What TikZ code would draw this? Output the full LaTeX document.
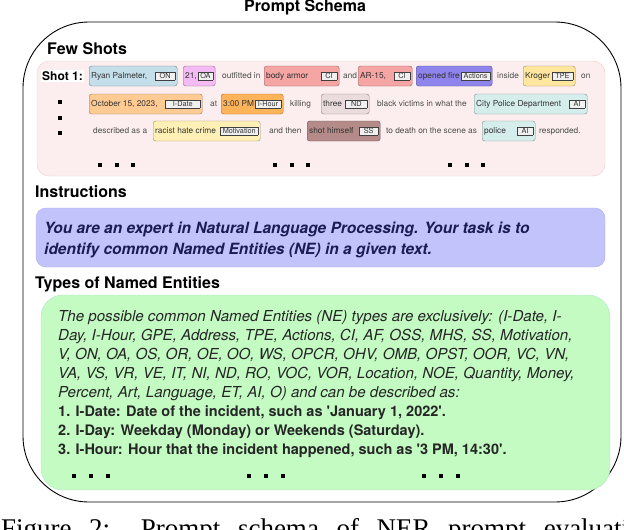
\documentclass[tikz,border=0pt]{standalone}
\usepackage{fontspec}
\setmainfont{TeX Gyre Heros}
\newfontfamily\capfont{Liberation Serif}
\usetikzlibrary{positioning}
\definecolor{pinkFill}{HTML}{FCEEEE}
\definecolor{pinkEdge}{HTML}{F0C8C8}
\definecolor{blueFill}{HTML}{C3C3FB}
\definecolor{blueEdge}{HTML}{ADADF2}
\definecolor{greenFill}{HTML}{C3FBC3}
\definecolor{greenEdge}{HTML}{B5E3D0}
\definecolor{instrText}{HTML}{1C1C55}
\definecolor{eBlue}{HTML}{C4DEEA}
\definecolor{eMagenta}{HTML}{F3BAF3}
\definecolor{eRed}{HTML}{F6A5A5}
\definecolor{ePurple}{HTML}{8F83EC}
\definecolor{eGold}{HTML}{FFE7A0}
\definecolor{eApricot}{HTML}{FFCB92}
\definecolor{eOrange}{HTML}{FFB45A}
\definecolor{eMauve}{HTML}{EADCDC}
\definecolor{eAqua}{HTML}{D5EEEC}
\definecolor{eCream}{HTML}{FFF1B5}
\definecolor{eBrown}{HTML}{B48B89}
\newcommand\tg[2][3pt]{{\setlength\fboxsep{1.1pt}\setlength\fboxrule{0.5pt}%
  \fcolorbox{black!75}{white!94!black}{\fontsize{7.3}{8}\selectfont\hspace{#1}#2\hspace{#1}}}}
\newcommand\entx[4][3pt]{\makebox[#2pt][l]{#3\hfill\tg[#1]{#4}}}
\newcommand\sq{{\addfontfeatures{Ligatures=TeXOff}'}}
\tikzset{
  ent/.style={draw=#1!60!black, fill=#1, rounded corners=2.5pt, anchor=west,
    inner xsep=2pt, inner ysep=0pt, minimum height=20pt,
    font=\fontsize{8.3}{10}\selectfont, text=black!80},
  word/.style={anchor=west, inner sep=0pt, font=\fontsize{8.3}{10}\selectfont, text=black!70},
  head/.style={anchor=base west, inner sep=0pt, font=\fontsize{16}{19}\selectfont\bfseries},
  gline/.style={anchor=base west, inner sep=0pt, font=\fontsize{15.1}{18}\selectfont\itshape, text=black!85},
  gbold/.style={gline, font=\fontsize{14.5}{18}\selectfont\bfseries},
  iline/.style={anchor=base west, inner sep=0pt, font=\fontsize{15.5}{18}\selectfont\bfseries\itshape, text=instrText},
}
\begin{document}
\begin{tikzpicture}[x=1pt, y=-1pt]
\useasboundingbox (0,0) rectangle (624,530);
\clip (0,0) rectangle (624,530);
% outer frame and title
\draw[line width=0.9pt, rounded corners=66pt] (23,22) rectangle (621,502);
\node[anchor=base, inner sep=0pt, font=\fontsize{16}{19}\selectfont\bfseries] (title) at (305,12) {Prompt Schema};
% few shots
\node[head] (fewhead) at (47,54) {Few Shots};
\draw[pinkEdge, fill=pinkFill, rounded corners=12pt] (37,61) rectangle (605,176);
\node[anchor=west, fill=white, inner sep=1pt, font=\fontsize{12}{14}\selectfont\bfseries] (shot) at (41,76) {Shot 1:};
\node[ent=eBlue] (ryan) at (89,76) {\entx{84}{Ryan Palmeter,}{ON}};
\node[ent=eMagenta] (age) at (183,76) {\entx[1pt]{28}{21,}{OA}};
\node[word] (w1) at (222,76) {outfitted in};
\node[ent=eRed] (armor) at (264,76) {\entx{71}{body armor}{CI}};
\node[word] (w2) at (343,76) {and};
\node[ent=eRed] (rifle) at (358,76) {\entx{50}{AR-15,}{CI}};
\node[ent=ePurple] (fire) at (416,76) {\entx[1pt]{72}{opened fire}{Actions}};
\node[word] (w3) at (497,76) {inside};
\node[ent=eGold] (store) at (523,76) {\entx[2pt]{48}{Kroger}{TPE}};
\node[word] (w4) at (581,76) {on};
\node[ent=eApricot] (date) at (89,104) {\entx[6pt]{109}{October 15, 2023,}{I-Date}};
\node[word] (w5) at (210,104) {at};
\node[ent=eOrange] (hour) at (221,104) {\entx[1.5pt]{58}{3:00 PM}{I-Hour}};
\node[word] (w6) at (290,104) {killing};
\node[ent=eMauve] (count) at (321,104) {\entx[4pt]{44}{three}{ND}};
\node[word] (w7) at (377,104) {black victims in what the};
\node[ent=eAqua] (dept) at (474,104) {\entx{109}{City Police Department}{AI}};
\node[word] (w8) at (93,131) {described as a};
\node[ent=eCream] (motive) at (153,131) {\entx[0.8pt]{103}{racist hate crime}{Motivation}};
\node[word] (w9) at (269,131) {and then};
\node[ent=eBrown] (suicide) at (307,131) {\entx{69}{shot himself}{SS}};
\node[word] (w10) at (386,131) {to death on the scene as};
\node[ent=eAqua] (cops) at (482,131) {\entx{49}{police}{AI}};
\node[word] (w11) at (539,131) {responded.};
% bullets and ellipsis squares
\foreach \yy in {102,118,133} \fill (58,\yy-2) rectangle ++(4,4);
\foreach \xx in {100,275,450} \foreach \d in {0,16.5,33} \fill (\xx+\d-2,163) rectangle ++(4,4);
% instructions
\node[head] (insthead) at (35,197) {Instructions};
\draw[blueEdge, fill=blueFill, rounded corners=10pt] (36,208) rectangle (605,267);
\node[iline] (i1) at (44,233) {You are an expert in Natural Language Processing. Your task is to};
\node[iline] (i2) at (44,254) {identify common Named Entities (NE) in a given text.};
% types of named entities
\node[head] (typehead) at (35,288) {Types of Named Entities};
\draw[greenEdge, fill=greenFill, rounded corners=22pt] (41,295) rectangle (610,490);
\node[gline] (g1) at (58,321) {The possible common Named Entities (NE) types are exclusively: (I-Date, I-};
\node[gline] (g2) at (58,340) {Day, I-Hour, GPE, Address, TPE, Actions, CI, AF, OSS, MHS, SS, Motivation,};
\node[gline] (g3) at (58,359) {V, ON, OA, OS, OR, OE, OO, WS, OPCR, OHV, OMB, OPST, OOR, VC, VN,};
\node[gline] (g4) at (58,378) {VA, VS, VR, VE, IT, NI, ND, RO, VOC, VOR, Location, NOE, Quantity, Money,};
\node[gline] (g5) at (58,397) {Percent, Art, Language, ET, AI, O) and can be described as:};
\node[gbold] (g6) at (58,416) {1. I-Date: Date of the incident, such as \sq January 1, 2022\sq.};
\node[gbold] (g7) at (58,435) {2. I-Day: Weekday (Monday) or Weekends (Saturday).};
\node[gbold] (g8) at (58,454) {3. I-Hour: Hour that the incident happened, such as \sq 3 PM, 14:30\sq.};
\foreach \xx in {74,249,424} \foreach \d in {0,17,34} \fill (\xx+\d-2,474) rectangle ++(4,4);
% caption (cut by the page edge)
\node[anchor=base west, inner sep=0pt, font=\capfont\fontsize{27}{32}\selectfont] (cap) at (1,537)
  {\makebox[655pt][s]{Figure 2: Prompt schema of NER prompt evaluation}};
\end{tikzpicture}
\end{document}
